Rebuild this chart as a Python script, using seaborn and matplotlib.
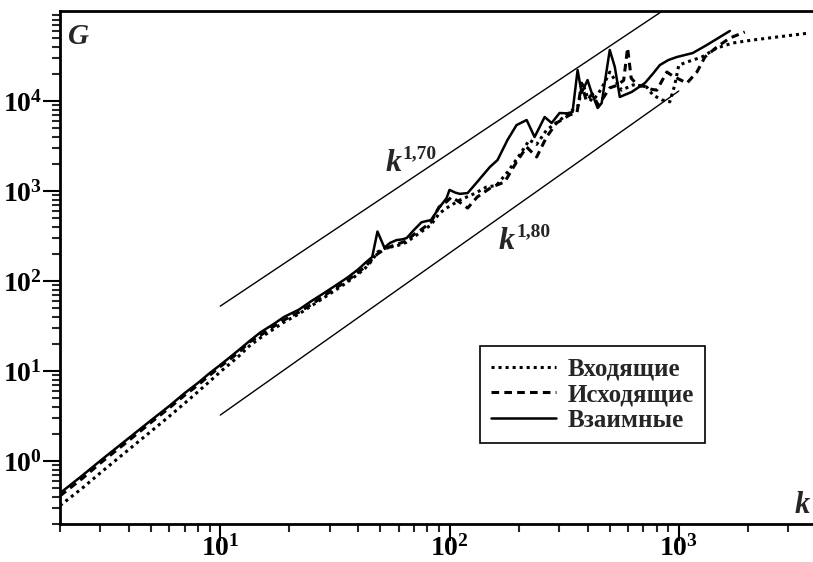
import numpy as np
import matplotlib
matplotlib.use("Agg")
import matplotlib.pyplot as plt
import matplotlib.ticker as mticker
import seaborn as sns

# degree k vs G for three link types
k_in = [2, 2.5, 3, 4, 5, 6, 7, 8, 9, 10, 12, 13.4, 15, 17, 19, 22, 25, 28, 32, 36,
        40, 43, 46, 48.5, 52, 56, 60, 65, 70, 75, 83, 90, 97, 111, 130, 145, 160, 179, 202, 223,
        240, 265, 296, 344, 365, 381, 400, 420, 445, 475, 500, 563, 632, 725, 770, 843, 914, 960, 1000, 1085,
        1260, 1466, 1720, 2100, 2680, 3730]
g_in = [0.32, 0.50, 0.74, 1.35, 2.15, 3.15, 4.4, 5.9, 7.7, 9.8, 14.5, 19, 23.5, 29, 35, 43, 53, 64, 80, 98,
        120, 140, 170, 210, 230, 240, 250, 270, 310, 350, 420, 560, 647, 794, 950, 1110, 1150, 1620, 2510, 3690,
        3300, 4760, 5850, 7940, 9000, 15800, 11000, 10000, 12000, 16000, 21000, 13200, 15100, 14300, 11700, 10300, 9800, 15000, 25000, 27100,
        30800, 38800, 44100, 47600, 51400, 57000]

k_out = [2, 2.5, 3, 4, 5, 6, 7, 8, 9, 10, 12, 13.4, 15, 17, 19, 22, 25, 28, 32, 36,
         40, 43, 46, 48.5, 52, 56, 60, 65, 70, 75, 83, 90, 97, 102, 110, 120, 132, 153, 174, 196,
         217, 240, 265, 293, 334, 360, 377, 395, 420, 445, 470, 500, 540, 575, 598, 620, 660, 711, 760, 802,
         887, 940, 1085, 1200, 1300, 1466, 1670, 1940]
g_out = [0.41, 0.64, 0.95, 1.7, 2.7, 3.9, 5.4, 7.0, 9.0, 11.2, 16, 21, 25, 31, 37, 45, 55, 67, 84, 102,
         125, 145, 175, 200, 225, 245, 260, 280, 330, 370, 450, 664, 760, 857, 760, 647, 857, 1110, 1260, 2100,
         3080, 2390, 3980, 5700, 6990, 7500, 15800, 10000, 12000, 9000, 11000, 14000, 15000, 17000, 38800, 18000, 15000, 14500, 13500, 13200,
         21000, 19000, 15800, 21000, 30800, 39800, 50100, 58400]

k_mut = [2, 2.5, 3, 4, 5, 6, 7, 8, 9, 10, 11, 12, 13.4, 15, 17, 19, 22, 25, 28, 32,
         36, 40, 43, 46, 48.5, 52, 55, 58.7, 62, 65, 70, 75.5, 83, 90, 97, 100, 106, 111, 120, 132,
         150, 162, 179, 196, 217, 235, 260, 279, 302, 325, 344, 362, 377, 400, 417, 443, 461, 500, 526, 553,
         623, 711, 770, 827, 900, 980, 1150, 1325, 1670]
g_mut = [0.44, 0.69, 1.01, 1.81, 2.85, 4.1, 5.7, 7.4, 9.5, 11.7, 14.2, 17.0, 21.5, 27, 33, 40, 48, 60, 72, 90,
         110, 135, 160, 185, 355, 235, 265, 285, 290, 300, 370, 450, 476, 650, 830, 1030, 960, 930, 950, 1260,
         1850, 2210, 3690, 5400, 6150, 3980, 6640, 5700, 7360, 7300, 7550, 22100, 12300, 17100, 12300, 8360, 9500, 36900, 23900, 11100,
         12600, 15800, 20000, 25100, 28500, 30800, 34100, 41900, 60000]

labels = ["Входящие", "Исходящие", "Взаимные"]

# power-law guide lines G = c * k^a
guide_k = [10, 1000]
slope_hi, coef_hi = 1.70, 1.05
slope_lo, coef_lo = 1.80, 0.0514

sns.set_style("ticks")
plt.rcParams["font.family"] = ["Liberation Serif", "DejaVu Serif"]
plt.rcParams["mathtext.fontset"] = "custom"
plt.rcParams["mathtext.rm"] = "Liberation Serif:bold"
plt.rcParams["mathtext.bf"] = "Liberation Serif:bold"
plt.rcParams["mathtext.it"] = "Liberation Serif:italic:bold"

fig = plt.figure(figsize=(8.13, 5.62), dpi=100)
ax = fig.add_axes([60 / 813, 38 / 562, 753 / 813, 513 / 562])
ax.set_xscale("log")
ax.set_yscale("log")

gk = np.array(guide_k, dtype=float)
ax.plot(gk, coef_hi * gk ** slope_hi, color="black", lw=1.0)
ax.plot(gk, coef_lo * gk ** slope_lo, color="black", lw=1.0)

sns.lineplot(x=k_in, y=g_in, ax=ax, color="black", lw=2.2, linestyle=(0, (1.0, 1.3)),
             label=labels[0], estimator=None, sort=False)
sns.lineplot(x=k_out, y=g_out, ax=ax, color="black", lw=2.2, linestyle=(0, (2.5, 1.7)),
             label=labels[1], estimator=None, sort=False)
sns.lineplot(x=k_mut, y=g_mut, ax=ax, color="black", lw=1.8, linestyle="-",
             label=labels[2], estimator=None, sort=False)

ax.set_xlim(2, 3850)
ax.set_ylim(0.2, 1e5)

# axes frame
for side in ["left", "bottom", "top"]:
    ax.spines[side].set_linewidth(2)
    ax.spines[side].set_color("black")
ax.spines["right"].set_visible(False)

ax.xaxis.set_major_locator(mticker.FixedLocator([10, 100, 1000]))
ax.yaxis.set_major_locator(mticker.FixedLocator([1, 10, 100, 1000, 10000]))
ax.xaxis.set_minor_locator(mticker.LogLocator(base=10, subs=np.arange(2, 10), numticks=20))
ax.yaxis.set_minor_locator(mticker.LogLocator(base=10, subs=np.arange(2, 10), numticks=20))
ax.xaxis.set_minor_formatter(mticker.NullFormatter())
ax.yaxis.set_minor_formatter(mticker.NullFormatter())
ax.xaxis.set_major_formatter(mticker.FuncFormatter(lambda v, p: r"$\mathbf{10^{%d}}$" % round(np.log10(v))))
ax.yaxis.set_major_formatter(mticker.FuncFormatter(lambda v, p: r"$\mathbf{10^{%d}}$" % round(np.log10(v))))
ax.tick_params(which="major", direction="out", length=12, width=1.5, labelsize=20,
               top=False, right=False, colors="black")
ax.tick_params(axis="y", which="major", pad=1)
ax.tick_params(axis="x", which="major", pad=-4)
ax.tick_params(which="minor", direction="out", length=6, width=1.5, top=False, right=False)
ax.set_xlabel("")
ax.set_ylabel("")

# axis names and slope annotations
ax.text(0.011, 0.936, "G", transform=ax.transAxes, fontsize=21, fontweight="bold", fontstyle="italic")
ax.text(0.975, 0.022, "k", transform=ax.transAxes, fontsize=22, fontweight="bold", fontstyle="italic")
ax.text(0.433, 0.689, "k", transform=ax.transAxes, fontsize=23, fontweight="bold", fontstyle="italic")
ax.text(0.455, 0.713, "1,70", transform=ax.transAxes, fontsize=14, fontweight="bold")
ax.text(0.583, 0.537, "k", transform=ax.transAxes, fontsize=23, fontweight="bold", fontstyle="italic")
ax.text(0.606, 0.560, "1,80", transform=ax.transAxes, fontsize=14, fontweight="bold")

leg = ax.legend(loc="lower left", bbox_to_anchor=(0.558, 0.158), frameon=True, fancybox=False,
                edgecolor="black", framealpha=1, handlelength=2.6, labelspacing=0.1,
                borderpad=0.45, handletextpad=0.45, borderaxespad=0,
                prop={"family": "Liberation Serif", "weight": "bold", "size": 18})
leg.get_frame().set_linewidth(1.2)

fig.savefig("out.png", dpi=100)
